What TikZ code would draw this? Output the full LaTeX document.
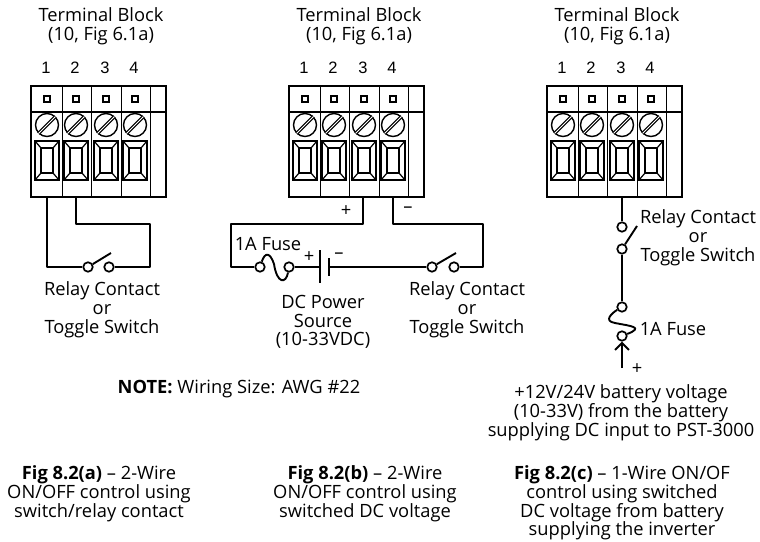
\documentclass[tikz,border=0pt]{standalone}
\usepackage{fontspec}
\setmainfont{Open Sans}
\newfontfamily\numfont{Liberation Sans}
\usetikzlibrary{arrows.meta}
\tikzstyle{wire} = [draw, line width=1.9pt, line join=round]
\tikzstyle{term} = [circle, draw, line width=1.7pt, fill=white, inner sep=0pt, minimum size=9.5pt]
\tikzstyle{lbl} = [align=center, inner sep=0pt, font=\fontsize{18.3}{18.8}\selectfont]
\tikzset{
termblock/.pic = {
  \draw [line width=2.8pt] (0,0) rectangle (135,111);
  \draw [line width=1.4pt] (0,26) -- (135,26);
  \foreach \i/\x in {1/16,2/45,3/75,4/104} {
    \node [rectangle, draw, line width=1.6pt, inner sep=0pt, minimum size=6.5pt] (-sq\i) at (\x,13) {};
    \node [circle, draw, line width=1.4pt, inner sep=0pt, minimum size=23pt] (-sc\i) at (\x,39) {};
    \draw [line width=3.2pt] (\x-8.5,47.5) -- (\x+8.5,30.5);
    \draw [white, line width=.8pt] (\x-8.5,47.5) -- (\x+8.5,30.5);
    \draw [line width=2pt] (\x-12,55) rectangle (\x+12,94);
    \draw [line width=1.2pt] (\x-6,62) rectangle (\x+6,87);
    \draw [line width=1.2pt] (\x-12,55) -- (\x-6,62) (\x+12,55) -- (\x+6,62)
      (\x-12,94) -- (\x-6,87) (\x+12,94) -- (\x+6,87);
    \draw [line width=1.4pt] (\x+15.5,0) -- (\x+15.5,111);
    \coordinate (-t\i) at (\x,111);
    \node [lbl, font=\numfont\fontsize{16.5}{18}\selectfont] (-n\i) at (\x-1,-18) {\i};
  }
  \node [lbl] (-title) at (70,-60) {Terminal Block\\(10, Fig 6.1a)};
}}
\begin{document}
\begin{tikzpicture}[x=1pt, y=-1pt]
\useasboundingbox (0,0) rectangle (760,541);
\pic (blkA) at (31,86) {termblock};
\pic (blkB) at (289,86) {termblock};
\pic (blkC) at (547,86) {termblock};
% Fig a
\node [term] (swAl) at (88,267) {};
\node [term] (swAr) at (109,267) {};
\coordinate (swAtip) at (111,253);
\coordinate (cAl) at (47,267);
\coordinate (cAr) at (150,267);
\coordinate (cAt) at (150,224);
\coordinate (cAu) at (76,224);
\draw [wire] (blkA-t1) -- (cAl) -- (swAl);
\draw [wire] (swAr) -- (cAr) -- (cAt) -- (cAu) -- (blkA-t2);
\draw [wire] (swAl) -- (swAtip);
\node [lbl] (relayA) at (102,310) {Relay Contact\\or\\Toggle Switch};
% Fig b
\coordinate (wpA) at (363,197);
\coordinate (wpB) at (363,224);
\coordinate (wpC) at (231,224);
\coordinate (wpD) at (231,267);
\coordinate (wnA) at (393,197);
\coordinate (wnB) at (393,224);
\coordinate (wnC) at (483,224);
\coordinate (wnD) at (483,267);
\node [term] (fuBl) at (260,267) {};
\node [term] (fuBr) at (289,267) {};
\node [term] (swBl) at (432,267) {};
\node [term] (swBr) at (454,267) {};
\coordinate (swBtip) at (456,253);
\coordinate (batP) at (320,267);
\coordinate (batPa) at (320,250);
\coordinate (batPb) at (320,283);
\coordinate (batN) at (329,267);
\coordinate (batNa) at (329,258);
\coordinate (batNb) at (329,276);
\draw [wire] (wpA) -- (wpB) -- (wpC) -- (wpD) -- (fuBl);
\draw [wire] (fuBl) .. controls (265,252) and (270,252) .. (274,264)
  .. controls (277,284) and (286,284) .. (fuBr);
\draw [wire] (fuBr) -- (batP);
\draw [wire] (batPa) -- (batPb);
\draw [wire, line width=2.4pt] (batNa) -- (batNb);
\draw [wire] (batN) -- (swBl);
\draw [wire] (swBl) -- (swBtip);
\draw [wire] (swBr) -- (wnD) -- (wnC) -- (wnB) -- (wnA);
\node [lbl] (plusB) at (346,211) {+};
\node [lbl] (minusB) at (408,210) {--};
\node [lbl] (plusBat) at (309,257) {+};
\node [lbl] (minusBat) at (339,256) {--};
\node [lbl] (fuseB) at (268,244) {1A Fuse};
\node [lbl] (srcB) at (323,322) {DC Power\\Source\\(10-33VDC)};
\node [lbl] (relayB) at (467,310) {Relay Contact\\or\\Toggle Switch};
% Fig c
\node [term] (swCu) at (622,227) {};
\node [term] (swCd) at (622,249) {};
\node [term] (fuCu) at (622,307) {};
\node [term] (fuCd) at (622,336) {};
\coordinate (swCtip) at (637,226);
\coordinate (arrC) at (622,368);
\draw [wire] (blkC-t3) -- (swCu);
\draw [wire] (swCd) -- (swCtip);
\draw [wire] (swCd) -- (fuCu);
\draw [wire] (fuCu) .. controls (612,313) and (603,321) .. (615,323)
  .. controls (630,326) and (645,327) .. (fuCd);
\draw [wire, -{Straight Barb[length=7pt, width=14pt, line width=1.9pt]}] (arrC) -- (fuCd);
\node [lbl] (plusC) at (637,369) {+};
\node [lbl] (relayC) at (698,238) {Relay Contact\\or\\Toggle Switch};
\node [lbl] (fuseC) at (673,329) {1A Fuse};
\node [lbl] (battC) at (621,413) {+12V/24V battery voltage\\(10-33V) from the battery\\supplying DC input to PST-3000};
% note and captions
\node [lbl] (note) at (239,389) {\textbf{NOTE:} Wiring Size: AWG \#22};
\node [lbl] (capA) at (99,494) {\textbf{Fig 8.2(a)} -- 2-Wire\\ON/OFF control using\\switch/relay contact};
\node [lbl] (capB) at (365,494) {\textbf{Fig 8.2(b)} -- 2-Wire\\ON/OFF control using\\switched DC voltage};
\node [lbl] (capC) at (622,503) {\textbf{Fig 8.2(c)} -- 1-Wire ON/OF\\control using switched\\DC voltage from battery\\supplying the inverter};
\end{tikzpicture}
\end{document}
